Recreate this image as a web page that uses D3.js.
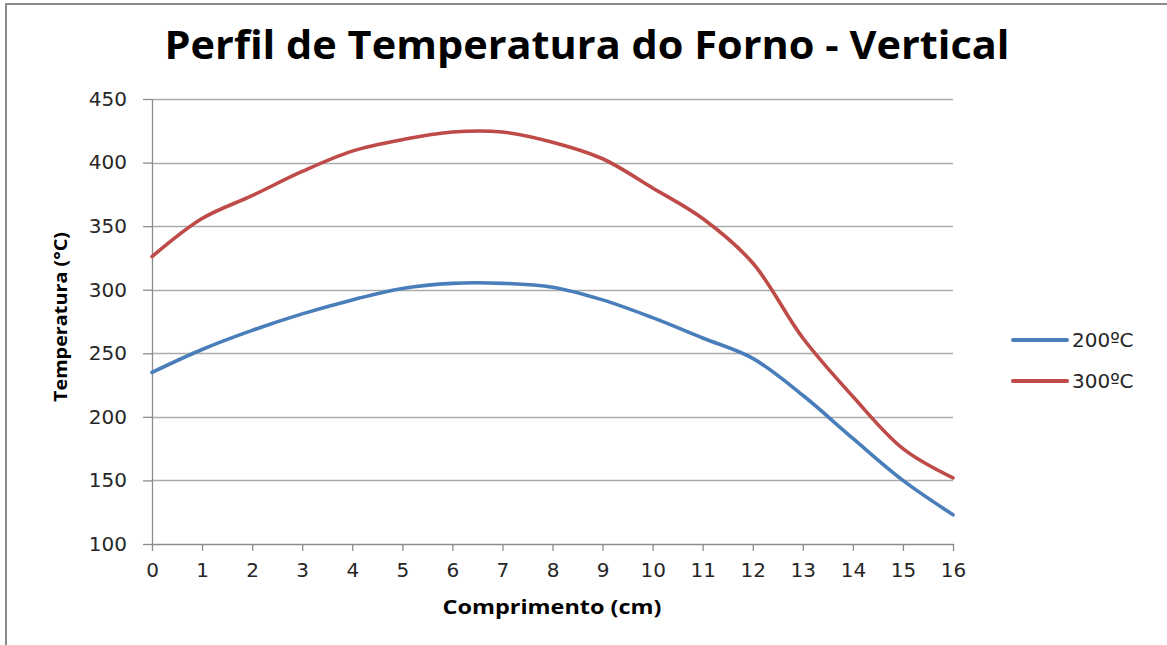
<!DOCTYPE html>
<html>
<head>
<meta charset="utf-8">
<script src="https://cdn.jsdelivr.net/npm/d3@7"></script>
<style>
  html, body { margin: 0; padding: 0; background: #fff; }
  svg { display: block; }
</style>
</head>
<body>
<svg id="chart" width="1167" height="645"></svg>
<script>
const title = "Perfil de Temperatura do Forno - Vertical";
const xTitle = "Comprimento (cm)";
const yTitle = "Temperatura (°C)";
const xValues = [0, 1, 2, 3, 4, 5, 6, 7, 8, 9, 10, 11, 12, 13, 14, 15, 16];
const series200 = [235, 253, 268, 281, 292, 301, 305, 305, 302, 292, 278, 262, 246, 217, 183, 150, 123];
const series300 = [326, 356, 374, 393, 409, 418, 424, 424, 416, 403, 380, 356, 321, 262, 216, 175, 152];
const seriesNames = ["200ºC", "300ºC"];
const seriesColors = ["#4A7EBB", "#BE4B48"];
const yTicks = [100, 150, 200, 250, 300, 350, 400, 450];
const xTicks = xValues;

const svg = d3.select("#chart");
const W = 1167, H = 645;

// frame (top and left only)
svg.append("line").attr("x1", 5).attr("x2", W).attr("y1", 4).attr("y2", 4)
  .attr("stroke", "#8a8a8a").attr("stroke-width", 2);
svg.append("line").attr("x1", 6).attr("x2", 6).attr("y1", 3).attr("y2", H)
  .attr("stroke", "#8a8a8a").attr("stroke-width", 2);

const x = d3.scaleLinear().domain([0, 16]).range([152, 953]);
const y = d3.scaleLinear().domain([100, 450]).range([544, 99]);

const gridColor = "#ABABAB";
const axisColor = "#8C8C8C";

// gridlines
svg.append("g").selectAll("line").data(yTicks.filter(d => d !== 100)).join("line")
  .attr("x1", x(0)).attr("x2", x(16))
  .attr("y1", d => Math.round(y(d)) + 0.5).attr("y2", d => Math.round(y(d)) + 0.5)
  .attr("stroke", gridColor).attr("stroke-width", 1.3);

// y axis
const yAxis = svg.append("g")
  .attr("transform", `translate(${x(0)},0)`)
  .call(d3.axisLeft(y).tickValues(yTicks).tickSize(9).tickPadding(16).tickSizeOuter(0));
yAxis.select(".domain").attr("stroke", axisColor).attr("stroke-width", 1.3);
yAxis.selectAll(".tick line").attr("stroke", axisColor).attr("stroke-width", 1.3);
yAxis.selectAll(".tick text")
  .attr("font-family", "DejaVu Sans").attr("font-size", 20).attr("fill", "#262626");

// x axis
const xAxis = svg.append("g")
  .attr("transform", `translate(0,${y(100)})`)
  .call(d3.axisBottom(x).tickValues(xTicks).tickSize(7).tickPadding(12).tickSizeOuter(0));
xAxis.select(".domain").attr("stroke", axisColor).attr("stroke-width", 1.3);
xAxis.selectAll(".tick line").attr("stroke", axisColor).attr("stroke-width", 1.3);
xAxis.selectAll(".tick text")
  .attr("font-family", "DejaVu Sans").attr("font-size", 20).attr("fill", "#262626");

// lines
const line = d3.line()
  .x((d, i) => x(xValues[i]))
  .y(d => y(d))
  .curve(d3.curveCatmullRom.alpha(0.5));

[series200, series300].forEach((s, k) => {
  svg.append("path").datum(s)
    .attr("fill", "none")
    .attr("stroke", seriesColors[k])
    .attr("stroke-width", 3.6)
    .attr("stroke-linejoin", "round")
    .attr("stroke-linecap", "round")
    .attr("d", line);
});

// title
svg.append("text")
  .attr("x", 587).attr("y", 59)
  .attr("text-anchor", "middle")
  .attr("font-family", "Open Sans").attr("font-weight", "bold").attr("font-size", 39)
  .attr("textLength", 845).attr("lengthAdjust", "spacingAndGlyphs")
  .attr("fill", "#000")
  .text(title);

// x axis title
svg.append("text")
  .attr("x", 552).attr("y", 614)
  .attr("text-anchor", "middle")
  .attr("font-family", "Open Sans").attr("font-weight", "bold").attr("font-size", 19)
  .attr("textLength", 219).attr("lengthAdjust", "spacingAndGlyphs")
  .attr("fill", "#000")
  .text(xTitle);

// y axis title
svg.append("text")
  .attr("transform", "translate(67,317) rotate(-90)")
  .attr("text-anchor", "middle")
  .attr("font-family", "Open Sans").attr("font-weight", "bold").attr("font-size", 18)
  .attr("textLength", 170).attr("lengthAdjust", "spacingAndGlyphs")
  .attr("fill", "#000")
  .text(yTitle);

// legend
const legend = svg.append("g");
seriesNames.forEach((name, k) => {
  const ly = 340 + k * 41;
  legend.append("line")
    .attr("x1", 1013).attr("x2", 1067).attr("y1", ly).attr("y2", ly)
    .attr("stroke", seriesColors[k]).attr("stroke-width", 4)
    .attr("stroke-linecap", "round");
  legend.append("text")
    .attr("x", 1072).attr("y", ly + 7)
    .attr("font-family", "DejaVu Sans").attr("font-size", 20).attr("fill", "#262626")
    .text(name);
});
</script>
</body>
</html>
